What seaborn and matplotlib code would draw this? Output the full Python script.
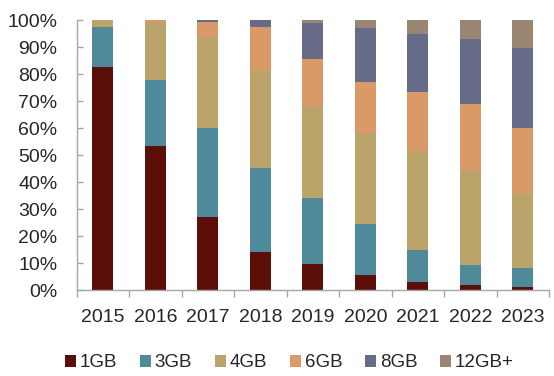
import matplotlib
matplotlib.use("Agg")
import matplotlib.pyplot as plt
import seaborn as sns
import pandas as pd
import numpy as np
from matplotlib.patches import Patch
from matplotlib.ticker import FixedLocator, PercentFormatter

years = ["2015", "2016", "2017", "2018", "2019", "2020", "2021", "2022", "2023"]
series_names = ["1GB", "3GB", "4GB", "6GB", "8GB", "12GB+"]
gb1 = [82.5, 53.3, 27.2, 14.4, 9.8, 5.6, 3.3, 1.9, 1.4]
gb3 = [15.0, 24.5, 32.8, 31.0, 24.5, 18.9, 11.8, 7.5, 6.8]
gb4 = [2.5, 21.6, 33.6, 35.9, 33.9, 33.8, 36.5, 35.1, 27.4]
gb6 = [0.0, 0.6, 5.8, 16.0, 17.4, 18.9, 21.9, 24.4, 24.5]
gb8 = [0.0, 0.0, 0.6, 2.7, 13.2, 19.8, 21.4, 24.1, 29.5]
gb12 = [0.0, 0.0, 0.0, 0.0, 1.2, 3.0, 5.1, 7.0, 10.4]
colors = ["#5c0f09", "#4f8a9b", "#baa46a", "#d99a67", "#666b88", "#988672"]

data = [gb1, gb3, gb4, gb6, gb8, gb12]

sns.set_style("white")
plt.rcParams['font.family'] = ['Liberation Sans', 'DejaVu Sans']

fig = plt.figure(figsize=(5.54, 3.76), dpi=100)
ax = fig.add_axes([0.1385, 0.2274, 0.991 - 0.1385, 0.9468 - 0.2274])

bottom = np.zeros(len(years))
for name, vals, col in zip(series_names, data, colors):
    df = pd.DataFrame({"year": years, "value": vals})
    sns.barplot(data=df, x="year", y="value", order=years, color=col,
                width=0.4, bottom=bottom, ax=ax, saturation=1,
                edgecolor="none", linewidth=0, errorbar=None)
    bottom = bottom + np.array(vals)

ax.set_xlim(-0.5, len(years) - 0.5)
ax.set_ylim(0, 100)
ax.yaxis.set_major_locator(FixedLocator(np.arange(0, 101, 10)))
ax.yaxis.set_major_formatter(PercentFormatter(decimals=0))
ax.set_xlabel("")
ax.set_ylabel("")

for s in ["top", "right"]:
    ax.spines[s].set_visible(False)
for s in ["left", "bottom"]:
    ax.spines[s].set_visible(True)
    ax.spines[s].set_color("#a6a6a6")
    ax.spines[s].set_linewidth(1.0)

ax.tick_params(axis="y", which="major", left=True, direction="in", length=4,
               width=1, color="#a6a6a6", labelsize=14, labelcolor="#262626",
               pad=14)
ax.tick_params(axis="x", which="major", bottom=False, labelsize=14,
               labelcolor="#262626", pad=10)
ax.xaxis.set_minor_locator(FixedLocator(np.arange(-0.5, len(years), 1.0)))
ax.tick_params(axis="x", which="minor", bottom=True, direction="out", length=5,
               width=1, color="#a6a6a6")

handles = [Patch(facecolor=c, edgecolor="none", label=n) for n, c in zip(series_names, colors)]
fig.legend(handles=handles, loc="center", bbox_to_anchor=(0.522, 0.035), ncol=6,
           frameon=False, fontsize=13.5, handlelength=0.6, handleheight=0.6,
           handletextpad=0.2, columnspacing=1.2, labelcolor="#262626")

fig.savefig("out.png", dpi=100)
